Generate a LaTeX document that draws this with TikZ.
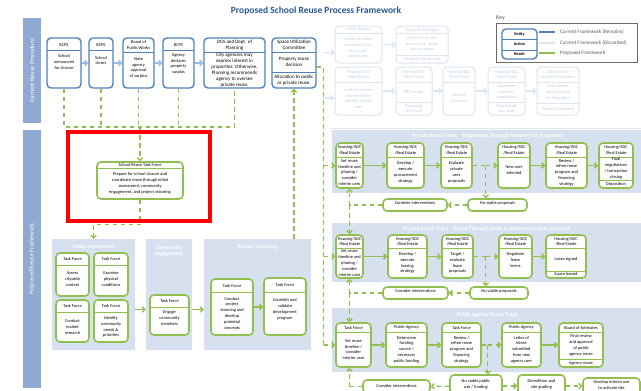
\documentclass[tikz,border=0pt]{standalone}
\usepackage{fontspec}
\setmainfont{Carlito}
\usetikzlibrary{fit,arrows.meta,calc}
\definecolor{boxblue}{HTML}{4F81BD}
\definecolor{arrblue}{HTML}{9DBCE2}
\definecolor{grn}{HTML}{92C050}
\definecolor{panel}{HTML}{D6E0EE}
\definecolor{side}{HTML}{8EAAD2}
\definecolor{ttl}{HTML}{2B5797}
\definecolor{fadeb}{HTML}{DCE5F1}
\definecolor{fadet}{HTML}{C5D1E2}
\definecolor{keyt}{HTML}{595959}
\definecolor{hl}{HTML}{FF0000}
\newcommand{\fsz}{\fontsize{4.4}{5.8}\selectfont}
\newcommand{\fbz}{\fontsize{5}{6}\selectfont}
\tikzset{
  barb/.style={-{Straight Barb[length=2.6pt,width=5.4pt]}},
  blue box/.style={draw=boxblue, line width=1.4pt, rounded corners=4pt, fill=white, inner sep=0pt},
  blue rule/.style={draw=boxblue, line width=0.6pt},
  blue text/.style={font=\fsz, align=center, inner sep=0pt, text=black},
  green box/.style={draw=grn, line width=1.6pt, rounded corners=4pt, fill=white, inner sep=0pt},
  green rule/.style={draw=grn, line width=0.6pt},
  green text/.style={font=\fsz, align=center, inner sep=0pt, text=black},
  fade box/.style={draw=fadeb, line width=1pt, rounded corners=4pt, fill=white, inner sep=0pt},
  fade rule/.style={draw=fadeb, line width=0.6pt},
  fade text/.style={font=\fsz, align=center, inner sep=0pt, text=fadet},
  pill/.style={green box, font=\fsz, align=center},
  panelbox/.style={fill=panel, draw=none, inner sep=0pt},
  paneltitle/.style={font=\bfseries\fontsize{5.6}{6.4}\selectfont, text=white, align=center, inner sep=0pt},
  sidebar/.style={fill=side, draw=none, inner sep=0pt},
  sidetext/.style={rotate=90, text=white, font=\fontsize{6.3}{7}\selectfont, inner sep=0pt},
  gdash/.style={draw=grn, line width=1.3pt, dash pattern=on 4.5pt off 3.5pt},
  garrow/.style={draw=grn, line width=1.5pt, barb},
  barrow/.style={draw=arrblue, line width=1.5pt, barb},
  farrow/.style={draw=fadeb, line width=1.2pt, barb},
  keytext/.style={font=\fontsize{5.2}{6}\selectfont, text=keyt, anchor=west, inner sep=0pt},
}
\newcommand{\mkbx}[7]{%
  \node[#1 box, fit={(#3,#4)(#5,#6)}] (#2) {};
  \draw[#1 rule] (#3,#7) -- (#5,#7);}
\newcommand{\mktx}[7]{%
  \node[#1 text] (#2) at ({(#3+#4)/2},{(#5+#6)/2}) {#7};}
\begin{document}
\begin{tikzpicture}[x=1pt,y=-1pt]
\useasboundingbox (0,0) rectangle (641,391);
\clip (0,0) rectangle (641,391);
\fill[white] (0,0) rectangle (641,391);

% title
\node[font=\bfseries\fontsize{9.5}{11}\selectfont, text=ttl, inner sep=0pt] (title) at (316,11) {Proposed School Reuse Process Framework};

% side bars
\node[sidebar, fit={(23,18)(41,123)}] (sb1) {};
\node[sidetext] (sb1t) at (sb1.center) {Current Reuse Procedure};
\node[sidebar, fit={(23,130)(41,388)}] (sb2) {};
\node[sidetext] (sb2t) at (sb2.center) {Proposed Reuse Framework};

% panels
\node[panelbox, fit={(332,130)(645,193)}] (R1) {};
\node[paneltitle] (R1t) at (487,136) {Private Reuse Track~ - Disposition Through Request For Proposals};
\node[panelbox, fit={(332,223)(645,282)}] (R2) {};
\node[paneltitle] (R2t) at (487,229) {Private Reuse Track~ - Reuse Through Lease or Alternative Deal Structure};
\node[panelbox, fit={(332,308)(645,372)}] (R3) {};
\node[paneltitle] (R3t) at (487,315) {Public Agency Reuse Track};
\node[panelbox, fit={(52,239)(135,350)}] (IA) {};
\node[paneltitle] (IAt) at (93.5,247) {Initial Assessment};
\node[panelbox, fit={(146,239)(192,350)}] (CE) {};
\node[paneltitle] (CEt) at (169,251) {Community\\Engagement};
\node[panelbox, fit={(204,239)(311,350)}] (PV) {};
\node[paneltitle] (PVt) at (257.5,247) {Project Visioning};

% discarded (faded) framework
\draw[fadeb, line width=0.8pt] (330,128) -- (641,128);
\mkbx{fade}{FA}{335}{26}{382}{63}{33}
\mktx{fade}{FAh}{335}{382}{26}{33}{Public Agency}
\mktx{fade}{FAb}{335}{382}{33}{63}{Letter of intent\\submitted from\\new public\\agency user}
\mkbx{fade}{FB}{396}{26}{448}{63}{33}
\draw[fade rule] (396,55) -- (448,55);
\mktx{fade}{FBh}{396}{448}{26}{33}{Board of Estimates}
\mktx{fade}{FBb}{396}{448}{33}{55}{Final review and\\approval for public\\agency reuse}
\mktx{fade}{FBr}{396}{448}{55}{63}{Property transferred}
\mkbx{fade}{FC}{335}{67}{382}{115}{82}
\mktx{fade}{FCh}{335}{382}{67}{82}{Housing/SDC\\/Real Estate}
\mktx{fade}{FCb}{335}{382}{82}{115}{Control of reuse\\transferred to\\identify private\\user}
\mkbx{fade}{FD}{396}{67}{432}{115}{82}
\draw[fade rule] (396,102) -- (432,102);
\mktx{fade}{FDh}{396}{432}{67}{82}{Housing/SDC\\/Real Estate}
\mktx{fade}{FDb}{396}{432}{82}{102}{RFP issued}
\mktx{fade}{FDr}{396}{432}{102}{115}{Proposals\\Received}
\mkbx{fade}{FE}{443}{67}{475}{115}{82}
\mktx{fade}{FEh}{443}{475}{67}{82}{Housing/SDC\\/Real Estate}
\mktx{fade}{FEb}{443}{475}{82}{115}{Review\\proposals}
\mkbx{fade}{FF}{488}{67}{525}{115}{82}
\draw[fade rule] (488,102) -- (525,102);
\mktx{fade}{FFh}{488}{525}{67}{82}{Housing/SDC\\/Real Estate}
\mktx{fade}{FFb}{488}{525}{82}{102}{Developer\\selected /\\negotiation}
\mktx{fade}{FFr}{488}{525}{102}{115}{Negotiated\\dev. deal}
\mkbx{fade}{FG}{537}{67}{579}{115}{82}
\draw[fade rule] (537,103) -- (579,103);
\mktx{fade}{FGh}{537}{579}{67}{82}{City Council/\\Board of Estimates}
\mktx{fade}{FGb}{537}{579}{82}{103}{Final review\\and approval\\of disposition}
\mktx{fade}{FGr}{537}{579}{103}{115}{Property disposed}
\draw[farrow] (FA) -- (FB);
\draw[farrow] (FC) -- (FD);
\draw[farrow] (FD) -- (FE);
\draw[farrow] (FE) -- (FF);
\draw[farrow] (FF) -- (FG);
\draw[farrow] ([shift={(-11pt,-8pt)}]FA.west) -- ([yshift=-8pt]FA.west);
\draw[farrow] ([shift={(-11pt,-7pt)}]FC.west) -- ([yshift=-7pt]FC.west);

% key
\node[font=\fontsize{6}{7}\selectfont, text=keyt, anchor=west, inner sep=0pt] (keylabel) at (496,18) {Key};
\node[draw=gray!85!black, line width=0.8pt, fit={(496,23)(637,62)}, inner sep=0pt] (key) {};
\mkbx{blue}{KB}{502}{29}{537}{59}{39}
\draw[blue rule] (502,50) -- (537,50);
\node[blue text, font=\bfseries\fontsize{4.2}{5}\selectfont] (KBe) at (519.5,34) {Entity};
\node[blue text, font=\bfseries\fontsize{4.2}{5}\selectfont] (KBa) at (519.5,44.5) {Action};
\node[blue text, font=\bfseries\fontsize{4.2}{5}\selectfont] (KBr) at (519.5,54.5) {Result};
\draw[boxblue, line width=1.2pt] (539,32) -- (555,32);
\draw[fadeb, line width=1.2pt] (539,43) -- (555,43);
\draw[grn, line width=1.2pt] (539,53) -- (555,53);
\node[keytext] (k1) at (560,32) {Current Framework (Remains)};
\node[keytext] (k2) at (560,43) {Current Framework (Discarded)};
\node[keytext] (k3) at (560,53) {Proposed Framework};

% current procedure row
\mkbx{blue}{B1}{47}{38}{81}{88}{50}
\mktx{blue}{B1h}{47}{81}{38}{52}{BCPS}
\mktx{blue}{B1b}{47}{81}{50}{74}{School\\announced\\for closure}
\mkbx{blue}{B2}{89}{38}{113}{88}{50}
\mktx{blue}{B2h}{89}{113}{38}{52}{BCPS}
\mktx{blue}{B2b}{89}{113}{50}{71}{School\\closes}
\mkbx{blue}{B3}{123}{38}{154}{88}{52}
\mktx{blue}{B3h}{123}{154}{38}{52}{Board of\\Public Works}
\mktx{blue}{B3b}{123}{154}{52}{84}{State\\agency\\approval\\of surplus}
\mkbx{blue}{B4}{163}{38}{194}{88}{50}
\mktx{blue}{B4h}{163}{194}{38}{52}{BCPS}
\mktx{blue}{B4b}{163}{194}{50}{78}{Agency\\declares\\property\\surplus}
\mkbx{blue}{B5}{204}{38}{265}{88}{52}
\node[blue text, font=\fbz] (B5h) at (234.5,45) {DGS and Dept. of\\Planning};
\node[blue text, font=\fbz] (B5b) at (234.5,70.5) {City agencies may\\express interest in\\properties. Otherwise,\\Planning recommends\\agency to oversee\\private reuse.};
\mkbx{blue}{B6}{272}{38}{316}{88}{52}
\draw[blue rule] (272,72) -- (316,72);
\node[blue text, font=\fbz] (B6h) at (294,45) {Space Utilization\\Committee};
\node[blue text, font=\fbz] (B6b) at (294,62) {Property reuse\\decision};
\node[blue text, font=\fbz] (B6r) at (294,80) {Allocation to public\\or private reuse.};
\draw[barrow] (B1) -- (B2);
\draw[barrow] (B2) -- (B3);
\draw[barrow] (B3) -- (B4);
\draw[barrow] (B4) -- (B5);

% task force
\mkbx{green}{TF}{97}{162}{183}{199}{168}
\mktx{green}{TFh}{97}{183}{162}{168}{School Reuse Task Force}
\mktx{green}{TFb}{97}{183}{168}{199}{Prepare for school closure and\\coordinate reuse through initial\\assessment, community\\engagement, and project visioning}

% dashed links from current row
\coordinate (HL) at (0,127);
\draw[gdash] (B1.south) -- (B1.south |- HL) -- (B5.south |- HL) -- (B5.south);
\draw[gdash] (B2.south) -- (B2.south |- HL);
\draw[gdash] (B3.south) -- (B3.south |- HL);
\draw[gdash] (B4.south) -- (B4.south |- HL);
\draw[gdash, barb] (TF.north |- HL) -- (TF.north);
\draw[gdash, barb] (TF.south) -- ++(0,25) -| (IA.north);

% initial assessment
\mkbx{green}{IA1}{56}{253}{89}{296}{265}
\mktx{green}{IA1h}{56}{89}{253}{265}{Task Force}
\mktx{green}{IA1b}{56}{89}{265}{293}{Assess\\citywide\\context}
\mkbx{green}{IA2}{94}{253}{128}{296}{265}
\mktx{green}{IA2h}{94}{128}{253}{265}{Task Force}
\mktx{green}{IA2b}{94}{128}{265}{293}{Examine\\physical\\conditions}
\mkbx{green}{IA3}{56}{300}{89}{342}{312}
\mktx{green}{IA3h}{56}{89}{300}{312}{Task Force}
\mktx{green}{IA3b}{56}{89}{312}{342}{Conduct\\market\\research}
\mkbx{green}{IA4}{94}{300}{128}{342}{312}
\mktx{green}{IA4h}{94}{128}{300}{312}{Task Force}
\mktx{green}{IA4b}{94}{128}{312}{342}{Identify\\community\\needs \&\\priorities}

% community engagement
\mkbx{green}{CE1}{150}{295}{189}{335}{307}
\mktx{green}{CE1h}{150}{189}{295}{307}{Task Force}
\mktx{green}{CE1b}{150}{189}{307}{329}{Engage\\community\\members}

% project visioning
\mkbx{green}{PV1}{211}{279}{253}{335}{292}
\mktx{green}{PV1h}{211}{253}{279}{292}{Task Force}
\mktx{green}{PV1b}{211}{253}{292}{335}{Conduct\\project\\visioning and\\develop\\potential\\concepts}
\mkbx{green}{PV2}{264}{278}{306}{335}{292}
\mktx{green}{PV2h}{264}{306}{278}{292}{Task Force}
\mktx{green}{PV2b}{264}{306}{292}{327}{Establish and\\validate\\development\\program}

\draw[garrow] ([yshift=-15pt]IA.east) -- ([yshift=-15pt]CE.west);
\draw[garrow] ([yshift=-15pt]CE.east) -- ([yshift=-15pt]PV.west);
\draw[garrow] (PV1.east) -- (PV1.east -| PV2.west);
\draw[gdash, barb] (B6.south |- PV.north) -- (B6.south);

% private track 1
\mkbx{green}{P1}{336}{143}{363}{188}{157}
\mktx{green}{P1h}{336}{363}{143}{157}{Housing/SDC\\/Real Estate}
\mktx{green}{P1b}{336}{363}{157}{188}{Set reuse\\timeline and\\phasing /\\consider\\interim uses}
\mkbx{green}{P2}{387}{143}{424}{188}{157}
\mktx{green}{P2h}{387}{424}{143}{157}{Housing/SDC\\/Real Estate}
\mktx{green}{P2b}{387}{424}{157}{188}{Develop /\\execute\\procurement\\strategy}
\mkbx{green}{P3}{441}{143}{472}{188}{157}
\mktx{green}{P3h}{441}{472}{143}{157}{Housing/SDC\\/Real Estate}
\mktx{green}{P3b}{441}{472}{157}{188}{Evaluate\\private\\user\\proposals}
\mkbx{green}{P4}{498}{143}{530}{188}{157}
\mktx{green}{P4h}{498}{530}{143}{157}{Housing/SDC\\/Real Estate}
\mktx{green}{P4b}{498}{530}{157}{183}{New user\\selected}
\mkbx{green}{P5}{546}{143}{587}{188}{157}
\mktx{green}{P5h}{546}{587}{143}{157}{Housing/SDC\\/Real Estate}
\mktx{green}{P5b}{546}{587}{157}{188}{Review /\\refine reuse\\program and\\financing\\strategy}
\mkbx{green}{P6}{599}{143}{633}{188}{157}
\draw[green rule] (599,180) -- (633,180);
\mktx{green}{P6h}{599}{633}{143}{157}{Housing/SDC\\/Real Estate}
\mktx{green}{P6b}{599}{633}{157}{180}{Final\\negotiations\\/ transaction\\closing}
\mktx{green}{P6r}{599}{633}{180}{188}{Disposition}
\node[pill, fit={(468,199)(527,211)}] (NV1) {No viable proposals};
\node[pill, fit={(383,199)(447,211)}] (CI1) {Consider interventions};
\draw[garrow] (P1) -- (P2);
\draw[garrow] (P2) -- (P3);
\draw[garrow] (P4) -- (P5);
\draw[garrow] (P5) -- (P6);
\coordinate (J1) at ($(P3.east)+(13,0)$);
\draw[gdash] (P3.east) -- (J1);
\draw[gdash, barb] (J1) -- (P4.west);
\draw[gdash, barb] (J1) -- (J1 |- NV1.north);
\draw[gdash, barb] (NV1) -- (CI1);

% private track 2 (lease)
\mkbx{green}{L1}{336}{235}{363}{278}{248}
\mktx{green}{L1h}{336}{363}{235}{248}{Housing/SDC\\/Real Estate}
\mktx{green}{L1b}{336}{363}{248}{278}{Set reuse\\timeline and\\phasing /\\consider\\interim uses}
\mkbx{green}{L2}{388}{235}{427}{278}{248}
\mktx{green}{L2h}{388}{427}{235}{248}{Housing/SDC\\/Real Estate}
\mktx{green}{L2b}{388}{427}{248}{278}{Develop /\\execute\\leasing\\strategy}
\mkbx{green}{L3}{442}{235}{473}{278}{248}
\mktx{green}{L3h}{442}{473}{235}{248}{Housing/SDC\\/Real Estate}
\mktx{green}{L3b}{442}{473}{248}{278}{Target /\\evaluate\\lease\\proposals}
\mkbx{green}{L4}{499}{235}{532}{278}{248}
\mktx{green}{L4h}{499}{532}{235}{248}{Housing/SDC\\/Real Estate}
\mktx{green}{L4b}{499}{532}{248}{272}{Negotiate\\lease\\terms}
\mkbx{green}{L5}{546}{235}{586}{278}{248}
\draw[green rule] (546,271) -- (586,271);
\mktx{green}{L5h}{546}{586}{235}{248}{Housing/SDC\\/Real Estate}
\mktx{green}{L5b}{546}{586}{248}{271}{Lease signed}
\mktx{green}{L5r}{546}{586}{271}{278}{Space leased}
\node[pill, fit={(470,287)(528,299)}] (NV2) {No viable proposals};
\node[pill, fit={(383,287)(448,299)}] (CI2) {Consider interventions};
\draw[garrow] (L1) -- (L2);
\draw[garrow] (L2) -- (L3);
\draw[garrow] (L4) -- (L5);
\coordinate (J2) at ($(L3.east)+(12,0)$);
\draw[gdash] (L3.east) -- (J2);
\draw[gdash, barb] (J2) -- (L4.west);
\draw[gdash, barb] (J2) -- (J2 |- NV2.north);
\draw[gdash, barb] (NV2) -- (CI2);

% public agency track
\mkbx{green}{Q1}{336}{323}{371}{367}{332}
\mktx{green}{Q1h}{336}{371}{323}{332}{Task Force}
\mktx{green}{Q1b}{336}{371}{332}{367}{Set reuse\\timeline /\\consider\\interim uses}
\mkbx{green}{Q2}{386}{323}{427}{367}{332}
\mktx{green}{Q2h}{386}{427}{323}{332}{Public Agency}
\mktx{green}{Q2b}{386}{427}{332}{367}{Determine\\funding\\source /\\necessary\\public funding}
\mkbx{green}{Q3}{442}{323}{481}{367}{332}
\mktx{green}{Q3h}{442}{481}{323}{332}{Task Force}
\mktx{green}{Q3b}{442}{481}{332}{367}{Review /\\refine reuse\\program and\\financing\\strategy}
\mkbx{green}{Q4}{502}{323}{541}{367}{332}
\mktx{green}{Q4h}{502}{541}{323}{332}{Public Agency}
\mktx{green}{Q4b}{502}{541}{332}{367}{Letter of\\intent\\submitted\\from new\\agency user}
\mkbx{green}{Q5}{559}{323}{603}{367}{332}
\draw[green rule] (559,359) -- (603,359);
\mktx{green}{Q5h}{559}{603}{323}{332}{Board of Estimates}
\mktx{green}{Q5b}{559}{603}{332}{359}{Final review\\and approval\\of public\\agency reuse}
\mktx{green}{Q5r}{559}{603}{359}{367}{Agency reuse}
\draw[garrow] (Q1) -- (Q2);
\draw[garrow] (Q2) -- (Q3);
\draw[garrow] (Q4) -- (Q5);

% bottom row (cut by the page edge)
\node[green box, fit={(450,375)(502,397)}] (NV3) {};
\node[green text] (NV3t) at (476,384) {No viable public\\use / funding};
\node[green box, fit={(363,380)(430,393)}] (CI3) {};
\node[green text] (CI3t) at (396.5,385.5) {Consider interventions};
\node[green box, fit={(518,375)(565,397)}] (DM) {};
\node[green text] (DMt) at (541.5,384) {Demolition and\\site grading};
\node[green box, fit={(583,378)(640,394)}] (DV) {};
\node[green text] (DVt) at (611.5,385) {Develop interim use\\to activate site};
\coordinate (J3) at ($(Q3.east)+(6,0)$);
\draw[gdash] (Q3.east) -- (J3);
\draw[gdash, barb] (J3) -- (Q4.west);
\draw[gdash, barb] (J3) -- (J3 |- NV3.north);
\draw[gdash, barb] (NV3) -- (CI3);
\draw[gdash, barb] (NV3) -- (DM);
\draw[gdash, barb] (DM) -- (DV);

% intervention loops
\coordinate (K1) at (P1.south |- CI1.west);
\draw[gdash] (CI1.west) -- (K1);
\draw[gdash, barb] (K1) -- (P1.south);
\draw[gdash, barb] (K1) -- (K1 |- L1.north);
\coordinate (K2) at (L1.south |- CI2.west);
\draw[gdash] (CI2.west) -- (K2);
\draw[gdash, barb] (K2) -- (L1.south);
\draw[gdash, barb] (K2) -- (K2 |- Q1.north);
\coordinate (K3) at (K2 |- CI3.west);
\draw[gdash] (CI3.west) -- (K3);
\draw[gdash, barb] (K3) -- (K3 |- Q1.south);

% distribution line from the committee
\coordinate (V0) at ($(B6.east)+(7,4)$);
\draw[gdash] ([yshift=-4pt]B6.east) -- (V0) -- (V0 |- Q1.west);
\draw[gdash, barb] (V0 |- P1.west) -- (P1.west);
\draw[gdash, barb] (V0 |- L1.west) -- (L1.west);
\draw[gdash, barb] (V0 |- Q1.west) -- (Q1.west);

% highlight
\node[draw=hl, line width=3.5pt, fit={(68,132)(210,221)}, inner sep=0pt] (mark) {};
\end{tikzpicture}
\end{document}
